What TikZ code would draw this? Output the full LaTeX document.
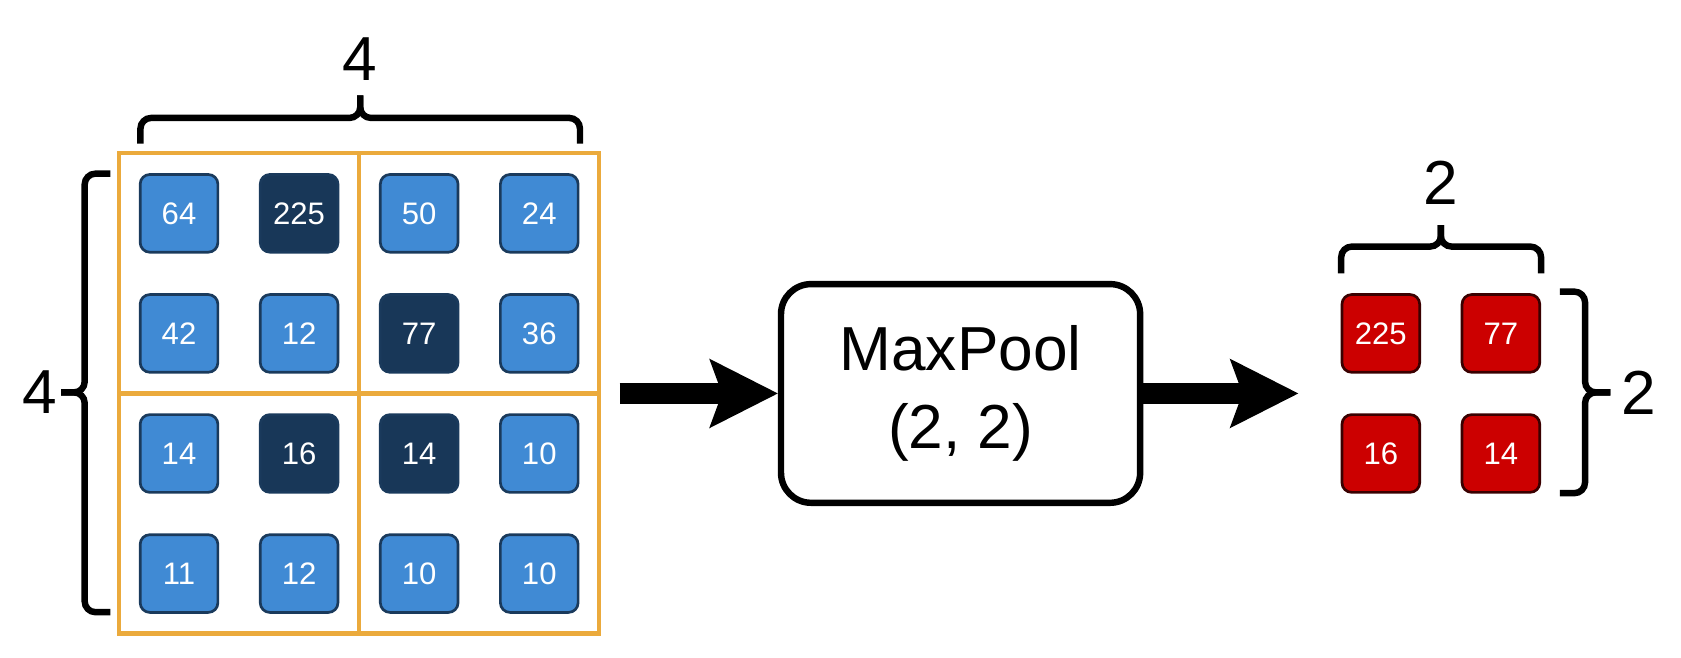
\documentclass[tikz,border=0pt]{standalone}
\usepackage{fontspec}
\setmainfont{Liberation Sans}
\usepackage{tikz}
\usetikzlibrary{arrows.meta, positioning}
\definecolor{cellblue}{RGB}{64,138,212}
\definecolor{cellnavy}{RGB}{24,55,88}
\definecolor{celledge}{RGB}{26,58,92}
\definecolor{poolred}{RGB}{204,0,0}
\definecolor{pooledge}{RGB}{58,0,0}
\definecolor{windoworange}{RGB}{235,170,60}

\begin{document}
\begin{tikzpicture}[
    x=1pt, y=-1pt,
    node distance=37pt and 37pt,
    cell/.style={rectangle, draw=celledge, line width=2.5pt, rounded corners=9pt, fill=cellblue,
                 minimum size=72.5pt, inner sep=0pt, text=white, font=\fontsize{29}{34}\selectfont},
    maxcell/.style={cell, fill=cellnavy},
    outcell/.style={cell, draw=pooledge, fill=poolred},
    window/.style={draw=windoworange, line width=4pt},
    brace/.style={line width=6pt, rounded corners=10pt},
    dimlabel/.style={inner sep=0pt, font=\fontsize{58}{70}\selectfont},
    opbox/.style={rectangle, draw, line width=6pt, rounded corners=28pt, minimum width=335pt,
                  minimum height=204pt, align=center, font=\fontsize{58}{72}\selectfont},
    arrow/.style={line width=19pt, -{Stealth[length=64pt, width=65pt, inset=12pt, line width=0pt]}}
]
\useasboundingbox (0,0) rectangle (1568,613);

% input feature map
\node[cell] (c11) at (167,199) {64};
\node[maxcell, right=of c11] (c12) {225};
\node[cell, right=of c12] (c13) {50};
\node[cell, right=of c13] (c14) {24};
\node[cell, below=of c11] (c21) {42};
\node[cell, right=of c21] (c22) {12};
\node[maxcell, right=of c22] (c23) {77};
\node[cell, right=of c23] (c24) {36};
\node[cell, below=of c21] (c31) {14};
\node[maxcell, right=of c31] (c32) {16};
\node[maxcell, right=of c32] (c33) {14};
\node[cell, right=of c33] (c34) {10};
\node[cell, below=of c31] (c41) {11};
\node[cell, right=of c41] (c42) {12};
\node[cell, right=of c42] (c43) {10};
\node[cell, right=of c43] (c44) {10};

% pooling windows
\draw[window] (111,143) rectangle (559,591);
\draw[window] (335,143) -- (335,591);
\draw[window] (111,367) -- (559,367);

% size braces of the input
\coordinate (intop) at (336,89);
\coordinate (inleft) at (57,366);
\draw[brace] (131,134) |- (336,110) -- (intop);
\draw[brace] (541,134) |- (336,110) -- (intop);
\draw[brace] (103,162) -| (79,366) -- (inleft);
\draw[brace] (103,571) -| (79,366) -- (inleft);
\node[dimlabel, above=14pt of intop] {4};
\node[dimlabel, left=4pt of inleft] {4};

% operation
\node[opbox] (maxpool) at (896,367) {MaxPool\\(2, 2)};
\coordinate (gridout) at (578,367);
\coordinate (outin) at (1211,367);
\draw[arrow] (gridout) -- (maxpool);
\draw[arrow] (maxpool) -- (outin);

% pooled output
\node[outcell] (o11) at (1288,311) {225};
\node[outcell, right=of o11] (o12) {77};
\node[outcell, below=of o11] (o21) {16};
\node[outcell, right=of o21] (o22) {14};

% size braces of the output
\coordinate (outtop) at (1344,210);
\coordinate (outright) at (1502,366);
\draw[brace] (1251,255) |- (1344,230) -- (outtop);
\draw[brace] (1437.5,255) |- (1344,230) -- (outtop);
\draw[brace] (1455,272) -| (1478.5,366) -- (outright);
\draw[brace] (1455,460) -| (1478.5,366) -- (outright);
\node[dimlabel, above=19pt of outtop] {2};
\node[dimlabel, right=10pt of outright] {2};
\end{tikzpicture}
\end{document}
